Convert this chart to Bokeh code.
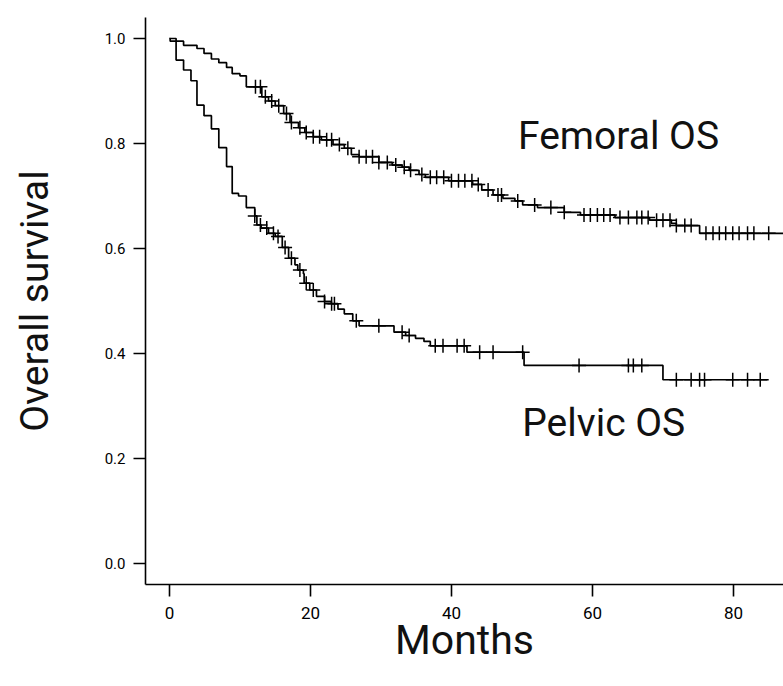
import numpy as np
from bokeh.plotting import figure
from bokeh.models import Range1d, FixedTicker, Label, PrintfTickFormatter
from bokeh.embed import file_html
from bokeh.resources import INLINE

# ---------------- data ----------------
fem_event_t = [0.1, 2.0, 3.9, 4.9, 5.95, 7.0, 8.1, 8.9, 10.0, 10.9, 13.1, 14.05, 15.0,
               16.2, 17.1, 18.3, 19.2, 20.4, 21.55, 23.2, 24.8, 25.8, 26.9, 29.7,
               31.6, 33.0, 34.0, 35.4, 36.3, 39.6, 43.0, 44.3, 45.9, 47.3, 49.0,
               50.1, 52.2, 56.0, 58.3, 63.2, 68.1, 71.2, 71.9, 75.2]
fem_event_s = [0.995, 0.987, 0.981, 0.9715, 0.961, 0.954, 0.945, 0.933, 0.929, 0.908,
               0.889, 0.881, 0.872, 0.857, 0.840, 0.830, 0.821, 0.813, 0.807, 0.798,
               0.791, 0.779, 0.775, 0.764, 0.759, 0.755, 0.749, 0.741, 0.7355, 0.729,
               0.722, 0.7115, 0.702, 0.6956, 0.6906, 0.683, 0.678, 0.669, 0.664,
               0.659, 0.654, 0.648, 0.6437, 0.629]
fem_censor_t = [12.2, 12.9, 13.6, 14.5, 15.5, 16.6, 17.3, 18.5, 19.4, 20.4, 21.3, 22.3,
                23.0, 24.1, 25.3, 26.9, 27.9, 28.8, 29.7, 30.9, 32.1, 33.3, 34.2, 35.8,
                37.0, 37.9, 38.9, 40.0, 41.0, 41.9, 42.9, 43.8, 45.2, 46.6, 47.1, 49.4,
                51.8, 54.1, 56.0, 58.8, 59.7, 60.7, 61.6, 62.5, 63.9, 65.1, 66.3, 67.0,
                67.9, 69.1, 70.0, 71.0, 71.9, 73.1, 74.0, 76.1, 77.1, 78.0, 78.9, 79.9,
                80.8, 82.0, 82.9, 85.0]
fem_end_t = 90.0

pel_event_t = [0.94, 2.0, 3.05, 3.9, 4.9, 5.95, 7.0, 8.1, 8.9, 9.8, 10.9, 12.1, 12.4,
               13.0, 14.05, 15.0, 16.0, 16.9, 17.8, 18.2, 19.0, 19.1, 19.9, 20.85,
               22.0, 22.96, 23.9, 24.8, 26.0, 26.9, 31.85, 33.5, 34.9, 36.1, 37.0,
               42.2, 50.3, 70.0]
pel_event_s = [0.959, 0.940, 0.9195, 0.873, 0.853, 0.828, 0.792, 0.756, 0.705, 0.700,
               0.678, 0.662, 0.645, 0.639, 0.629, 0.623, 0.602, 0.5815, 0.569, 0.559,
               0.552, 0.534, 0.521, 0.509, 0.499, 0.495, 0.4845, 0.4756, 0.4623,
               0.4528, 0.4407, 0.4343, 0.429, 0.423, 0.4147, 0.4026, 0.3773, 0.350]
pel_censor_t = [12.1, 12.9, 13.8, 14.75, 15.4, 16.4, 17.3, 18.5, 19.4, 20.4, 22.0, 23.0,
                23.4, 26.5, 29.7, 33.0, 34.0, 37.7, 38.8, 40.8, 41.8, 44.0, 45.9, 50.1,
                58.1, 65.1, 65.8, 67.0, 71.9, 74.0, 75.2, 75.9, 79.9, 82.0, 83.8]
pel_end_t = 85.0

x_ticks = [0, 20, 40, 60, 80]
y_ticks = [0.0, 0.2, 0.4, 0.6, 0.8, 1.0]

x_label = "Months"
y_label = "Overall survival"
fem_label = "Femoral OS"
pel_label = "Pelvic OS"
fem_label_pos = (63.7, 0.815)
pel_label_pos = (61.6, 0.267)

FONT = "Roboto"

# ---------------- figure ----------------
p = figure(width=783, height=686, output_backend="svg", toolbar_location=None,
           x_range=Range1d(-3.40, 87.1), y_range=Range1d(-0.04, 1.04),
           min_border_left=145, min_border_right=0, min_border_top=17,
           min_border_bottom=102)
p.outline_line_color = None
p.grid.visible = False
p.background_fill_color = "white"
p.border_fill_color = "white"


def km_curve(ev_t, ev_s, end_t):
    xs = [0.0] + list(ev_t) + [end_t]
    ys = [1.0] + list(ev_s) + [ev_s[-1]]
    return xs, ys


def censor_y(ct, ev_t, ev_s):
    t_arr = np.array([0.0] + list(ev_t))
    s_arr = np.array([1.0] + list(ev_s))
    idx = np.searchsorted(t_arr, np.array(ct), side="right") - 1
    return list(s_arr[idx])


for ev_t, ev_s, cens, end_t in [(fem_event_t, fem_event_s, fem_censor_t, fem_end_t),
                                (pel_event_t, pel_event_s, pel_censor_t, pel_end_t)]:
    xs, ys = km_curve(ev_t, ev_s, end_t)
    p.step(xs, ys, mode="after", line_color="black", line_width=1.7)
    p.scatter(cens, censor_y(cens, ev_t, ev_s), marker="cross", size=14,
              line_color="black", line_width=1.5)

# axes
for ax in (p.xaxis[0], p.yaxis[0]):
    ax.axis_line_color = "black"
    ax.axis_line_width = 1.6
    ax.major_tick_line_color = "black"
    ax.major_tick_line_width = 1.6
    ax.major_tick_in = 0
    ax.major_tick_out = 12
    ax.minor_tick_line_color = None
    ax.major_label_text_color = "black"
    ax.major_label_text_font = FONT
    ax.axis_label_text_font = FONT
    ax.axis_label_text_font_style = "normal"
    ax.axis_label_text_color = "#111111"
    ax.axis_label_text_font_size = "39px"

p.xaxis.axis_label_text_font_size = "41px"
p.xaxis.major_label_text_font_size = "17px"
p.yaxis.major_label_text_font_size = "15px"
p.xaxis.ticker = FixedTicker(ticks=x_ticks)
p.yaxis.ticker = FixedTicker(ticks=y_ticks)
p.yaxis.formatter = PrintfTickFormatter(format="%.1f")
p.xaxis.major_label_standoff = 10
p.yaxis.major_label_standoff = 8
p.xaxis.axis_label = x_label
p.yaxis.axis_label = y_label
p.xaxis.axis_label_standoff = -6
p.yaxis.axis_label_standoff = 44

for txt, (lx, ly) in [(fem_label, fem_label_pos), (pel_label, pel_label_pos)]:
    p.add_layout(Label(x=lx, y=ly, text=txt, text_align="center",
                       text_baseline="middle", text_font=FONT,
                       text_font_size="39px", text_color="#111111"))

open("out.html", "w").write(file_html(p, INLINE))
